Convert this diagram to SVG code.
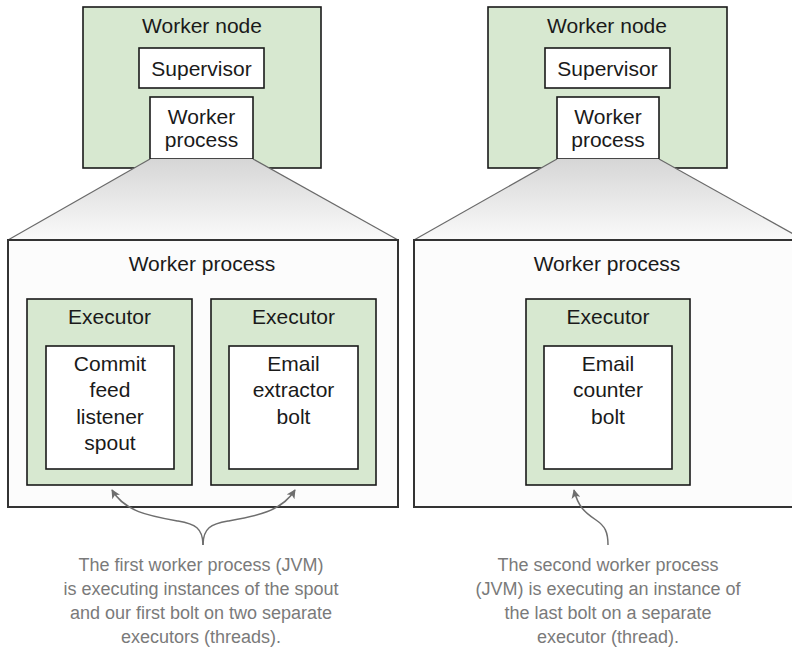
<svg xmlns="http://www.w3.org/2000/svg" width="792" height="647" viewBox="0 0 792 647">
<defs>
<linearGradient id="zoom" x1="0" y1="0" x2="0" y2="1">
<stop offset="0" stop-color="#d6d6d6"/>
<stop offset="1" stop-color="#fafafa"/>
</linearGradient>
<marker id="ah" viewBox="0 0 10 10" refX="9" refY="5" markerWidth="9" markerHeight="9" markerUnits="userSpaceOnUse" orient="auto">
<path d="M0,0 L10,5 L0,10 L2.5,5 Z" fill="#6e6e6e"/>
</marker>
<style>
.green{fill:#d7e8d0;stroke:#1a1a1a;stroke-width:1.6}
.white{fill:#ffffff;stroke:#1a1a1a;stroke-width:1.6}
.big{fill:#fcfcfc;stroke:#333333;stroke-width:2}
.trap{fill:url(#zoom);stroke:none}
.tline{stroke:#6a6a6a;stroke-width:1.2;fill:none}
.t{font-family:"Liberation Sans",Arial,sans-serif;font-size:21px;fill:#1a1a1a;text-anchor:middle}
.cap{font-family:"Liberation Sans",Arial,sans-serif;font-size:18px;fill:#7a7a7a;text-anchor:middle}
.arr{fill:none;stroke:#6e6e6e;stroke-width:1.5}
</style>
</defs>

<g id="worker-node-1">
<rect class="green" x="83" y="7" width="238" height="161"/>
<text class="t" x="202" y="33">Worker node</text>
</g>
<g id="supervisor-1">
<rect class="white" x="139" y="48" width="125" height="40"/>
<text class="t" x="201.5" y="76">Supervisor</text>
</g>
<g id="worker-process-small-1">
<rect class="white" x="150" y="97" width="103" height="62"/>
<text class="t" x="201.5" y="124">Worker</text>
<text class="t" x="201.5" y="147">process</text>
</g>

<g id="worker-node-2">
<rect class="green" x="488" y="7" width="239" height="161"/>
<text class="t" x="607" y="33">Worker node</text>
</g>
<g id="supervisor-2">
<rect class="white" x="545" y="48" width="125" height="40"/>
<text class="t" x="607.5" y="76">Supervisor</text>
</g>
<g id="worker-process-small-2">
<rect class="white" x="557" y="97" width="102" height="62"/>
<text class="t" x="608" y="124">Worker</text>
<text class="t" x="608" y="147">process</text>
</g>

<g id="zoom-1">
<polygon class="trap" points="150,159 253,159 398,240 8,240"/>
<line class="tline" x1="150" y1="159" x2="8" y2="240"/>
<line class="tline" x1="253" y1="159" x2="398" y2="240"/>
</g>
<g id="zoom-2">
<polygon class="trap" points="557,159 659,159 804,240 414,240"/>
<line class="tline" x1="557" y1="159" x2="414" y2="240"/>
<line class="tline" x1="659" y1="159" x2="804" y2="240"/>
</g>

<g id="worker-process-1">
<rect class="big" x="8" y="240" width="390" height="267"/>
<text class="t" x="202" y="271">Worker process</text>
</g>
<g id="worker-process-2">
<rect class="big" x="414" y="240" width="392" height="267"/>
<text class="t" x="607" y="271">Worker process</text>
</g>

<g id="executor-1">
<rect class="green" x="27" y="299" width="165" height="186"/>
<text class="t" x="109.5" y="324">Executor</text>
</g>
<g id="spout">
<rect class="white" x="46" y="346" width="128" height="123"/>
<text class="t" x="110" y="371">Commit</text>
<text class="t" x="110" y="397">feed</text>
<text class="t" x="110" y="424">listener</text>
<text class="t" x="110" y="450">spout</text>
</g>

<g id="executor-2">
<rect class="green" x="211" y="299" width="165" height="186"/>
<text class="t" x="293.5" y="324">Executor</text>
</g>
<g id="email-extractor">
<rect class="white" x="229" y="346" width="129" height="123"/>
<text class="t" x="293.5" y="371">Email</text>
<text class="t" x="293.5" y="397">extractor</text>
<text class="t" x="293.5" y="424">bolt</text>
</g>

<g id="executor-3">
<rect class="green" x="526" y="299" width="164" height="186"/>
<text class="t" x="608" y="324">Executor</text>
</g>
<g id="email-counter">
<rect class="white" x="544" y="346" width="128" height="123"/>
<text class="t" x="608" y="371">Email</text>
<text class="t" x="608" y="397">counter</text>
<text class="t" x="608" y="424">bolt</text>
</g>

<g id="connectors">
<path class="arr" marker-end="url(#ah)" d="M203,545 C203,528 195,524 178,521 C150,516 125,512 112,490"/>
<path class="arr" marker-end="url(#ah)" d="M203,545 C203,528 211,524 228,521 C256,516 281,512 295,490"/>
<path class="arr" marker-end="url(#ah)" d="M608,545 C608,532 605,526 596,520 C584,512 578,506 574,490"/>
</g>

<g id="caption-1">
<text class="cap" x="201" y="571">The first worker process (JVM)</text>
<text class="cap" x="201" y="595">is executing instances of the spout</text>
<text class="cap" x="201" y="619">and our first bolt on two separate</text>
<text class="cap" x="201" y="643">executors (threads).</text>
</g>
<g id="caption-2">
<text class="cap" x="608" y="571">The second worker process</text>
<text class="cap" x="608" y="595">(JVM) is executing an instance of</text>
<text class="cap" x="608" y="619">the last bolt on a separate</text>
<text class="cap" x="608" y="643">executor (thread).</text>
</g>
</svg>
